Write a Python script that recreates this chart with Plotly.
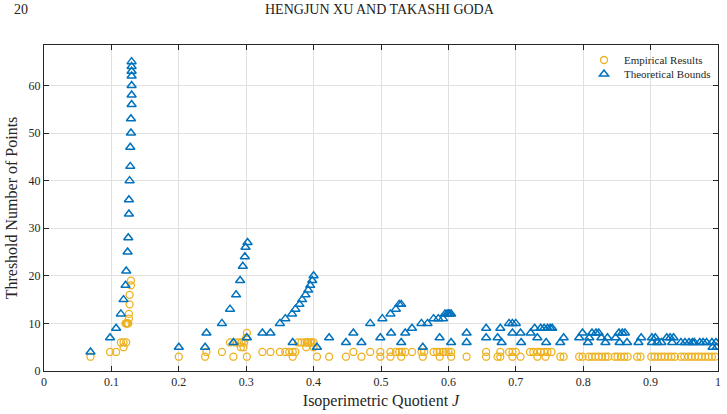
import plotly.graph_objects as go

# ---- data ----
theo_x = [0.069, 0.098, 0.107, 0.114, 0.118, 0.121, 0.122, 0.124, 0.125, 0.126, 0.126, 0.127, 0.128, 0.128,
          0.129, 0.129, 0.130, 0.130, 0.130, 0.130, 0.130, 0.130, 0.130,
          0.200, 0.239, 0.241, 0.264, 0.276, 0.281, 0.285, 0.291, 0.295, 0.298, 0.299, 0.302, 0.301,
          0.324, 0.336, 0.350, 0.358, 0.368, 0.369, 0.373, 0.379, 0.383, 0.388, 0.392, 0.395, 0.398, 0.400,
          0.405, 0.423, 0.448, 0.459, 0.471, 0.484, 0.499, 0.502, 0.514, 0.515, 0.522, 0.527, 0.530, 0.530,
          0.536, 0.546, 0.560, 0.562, 0.569, 0.578, 0.585, 0.587, 0.592, 0.595, 0.598, 0.600, 0.602, 0.604, 0.604,
          0.627, 0.627, 0.656, 0.656, 0.673, 0.677, 0.679, 0.690, 0.695, 0.700, 0.695, 0.707, 0.708, 0.722,
          0.728, 0.732, 0.737, 0.742, 0.745, 0.747, 0.751, 0.754, 0.766, 0.771, 0.794, 0.799, 0.807,
          0.809, 0.813, 0.819, 0.823, 0.827, 0.833, 0.836, 0.848, 0.853, 0.854, 0.858, 0.862, 0.865,
          0.882, 0.886, 0.902, 0.902, 0.907, 0.910, 0.916, 0.924, 0.929, 0.932, 0.934,
          0.945, 0.951, 0.957, 0.962, 0.965, 0.973, 0.978, 0.983, 0.991, 0.997, 0.992, 0.998]
theo_y = [4, 7, 9, 12, 15, 18, 21, 25, 28, 33, 36, 40, 43, 47,
          50, 53, 56, 58, 60, 62, 63, 64, 65,
          5, 5, 8, 10, 13, 6, 16, 19, 22, 24, 26, 27, 7,
          8, 8, 10, 11, 12, 6, 13, 14, 15, 16, 17, 18, 19, 20,
          5, 7, 6, 8, 6, 10, 7, 11, 12, 8, 13, 14, 14, 6,
          8, 9, 10, 5, 10, 11, 11, 7, 11, 12, 12, 12, 12, 12, 6,
          8, 6, 9, 7, 7, 9, 6, 10, 10, 10, 8, 8, 6, 8,
          9, 7, 9, 9, 6, 9, 9, 9, 6, 7, 7, 8, 6,
          7, 8, 8, 8, 7, 6, 7, 7, 8, 6, 8, 8, 6,
          6, 7, 7, 6, 7, 6, 6, 7, 7, 6, 7,
          6, 6, 6, 6, 6, 6, 6, 6, 6, 6, 5, 5]

emp_x = [0.069, 0.098, 0.107, 0.114, 0.118, 0.122, 0.118, 0.121, 0.122, 0.123, 0.124, 0.125, 0.126, 0.126,
         0.127, 0.127, 0.129, 0.129,
         0.200, 0.239, 0.241, 0.264, 0.281, 0.276, 0.284, 0.289, 0.293, 0.297, 0.292, 0.296, 0.301, 0.300, 0.301,
         0.324, 0.336, 0.350, 0.358, 0.364, 0.369, 0.373, 0.369, 0.377, 0.382, 0.387, 0.390, 0.392, 0.395,
         0.397, 0.400, 0.389, 0.400, 0.405, 0.423, 0.448, 0.459, 0.471, 0.484, 0.499, 0.499, 0.514, 0.514,
         0.522, 0.527, 0.531, 0.536, 0.530, 0.546, 0.560, 0.564, 0.562, 0.578, 0.583, 0.587, 0.592, 0.596,
         0.600, 0.604, 0.587, 0.604,
         0.627, 0.656, 0.656, 0.673, 0.677, 0.677, 0.690, 0.695, 0.700, 0.695, 0.707, 0.721, 0.726, 0.732,
         0.737, 0.742, 0.747, 0.753, 0.732, 0.744, 0.766, 0.771, 0.794, 0.799,
         0.808, 0.813, 0.818, 0.823, 0.828, 0.833, 0.837, 0.847, 0.851, 0.856, 0.861, 0.866, 0.880, 0.885,
         0.901, 0.906, 0.911, 0.916, 0.921, 0.926, 0.931, 0.936,
         0.945, 0.950, 0.956, 0.961, 0.966, 0.971, 0.976, 0.981, 0.986, 0.991, 0.996]
emp_y = [3, 4, 4, 6, 6, 6, 5, 10, 10, 10, 10, 10, 11, 12,
         14, 16, 18, 19,
         3, 3, 4, 4, 3, 6, 6, 6, 6, 6, 5, 5, 8, 7, 3,
         4, 4, 4, 4, 4, 4, 4, 3, 6, 6, 6, 6, 6, 6,
         6, 6, 5, 5, 3, 3, 3, 4, 3, 4, 4, 3, 4, 3,
         4, 4, 4, 4, 3, 4, 4, 4, 3, 4, 4, 4, 4, 4,
         4, 4, 3, 3,
         3, 4, 3, 3, 4, 3, 4, 4, 4, 3, 3, 4, 4, 4,
         4, 4, 4, 4, 3, 3, 3, 3, 3, 3,
         3, 3, 3, 3, 3, 3, 3, 3, 3, 3, 3, 3, 3, 3,
         3, 3, 3, 3, 3, 3, 3, 3,
         3, 3, 3, 3, 3, 3, 3, 3, 3, 3, 3]

x_ticks = [0, 0.1, 0.2, 0.3, 0.4, 0.5, 0.6, 0.7, 0.8, 0.9, 1]
x_tick_labels = ["0", "0.1", "0.2", "0.3", "0.4", "0.5", "0.6", "0.7", "0.8", "0.9", "1"]
y_ticks = [0, 10, 20, 30, 40, 50, 60]

FONT = "Liberation Serif"
EMP_COLOR = "#EDB120"
THEO_COLOR = "#0072BD"

fig = go.Figure()
fig.add_trace(go.Scatter(
    x=emp_x, y=emp_y, mode="markers", name="Empirical Results", legend="legend",
    marker=dict(symbol="circle-open", size=7, color=EMP_COLOR, line=dict(width=1.3, color=EMP_COLOR)),
))
fig.add_trace(go.Scatter(
    x=theo_x, y=theo_y, mode="markers", name="Theoretical Bounds", legend="legend2",
    marker=dict(symbol="triangle-up-open", size=8, color=THEO_COLOR, line=dict(width=1.5, color=THEO_COLOR)),
))

axis_common = dict(
    showgrid=True, gridcolor="#e0e0e0", gridwidth=1,
    showline=True, linecolor="#262626", linewidth=1, mirror="allticks",
    ticks="inside", ticklen=5, tickcolor="#262626", zeroline=False,
    tickfont=dict(family=FONT, size=12, color="#262626"),
)

fig.update_xaxes(range=[0, 1], tickvals=x_ticks, ticktext=x_tick_labels,
                 title=dict(text="Isoperimetric Quotient <i>J</i>", font=dict(family=FONT, size=16, color="#262626"),
                            standoff=6),
                 **axis_common)
fig.update_yaxes(range=[0, 68.5], tickvals=y_ticks,
                 title=dict(text="Threshold Number of Points", font=dict(family=FONT, size=16, color="#262626"),
                            standoff=6),
                 **axis_common)

plot_w = 727 - 44 - 9
plot_h = 414 - 45 - 43

legend_common = dict(xanchor="left", yanchor="middle",
                     bgcolor="rgba(255,255,255,0)", borderwidth=0,
                     font=dict(family=FONT, size=11, color="#262626"),
                     itemwidth=30)

fig.update_layout(
    width=727, height=414,
    margin=dict(l=44, r=9, t=45, b=43, autoexpand=False),
    paper_bgcolor="white", plot_bgcolor="white",
    font=dict(family=FONT, color="#262626"),
    showlegend=True,
    legend=dict(x=(584 - 44) / plot_w, y=(371 - 60) / plot_h, **legend_common),
    legend2=dict(x=(584 - 44) / plot_w, y=(371 - 74) / plot_h, **legend_common),
    annotations=[
        dict(text="20", x=(12 - 44) / plot_w, y=(414 - 43 - 10) / plot_h, xref="paper", yref="paper",
             xanchor="left", yanchor="middle", showarrow=False,
             font=dict(family=FONT, size=14, color="#222")),
        dict(text="HENGJUN XU AND TAKASHI GODA", x=(380 - 44) / plot_w, y=(414 - 43 - 10) / plot_h,
             xref="paper", yref="paper", xanchor="center", yanchor="middle", showarrow=False,
             font=dict(family=FONT, size=14, color="#222")),
    ],
)

fig.write_html("out.html")
